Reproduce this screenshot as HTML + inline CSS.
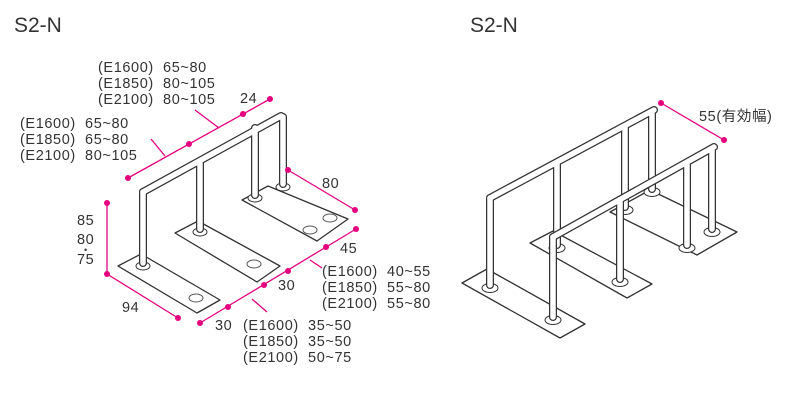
<!DOCTYPE html>
<html><head><meta charset="utf-8"><style>
html,body{margin:0;padding:0;background:#fff;}
svg{display:block;}
text{font-family:"Liberation Sans","Noto Sans CJK JP",sans-serif;fill:#333;}
.t{font-size:14.5px;letter-spacing:0.6px;}
.m{stroke:#e4007f;stroke-width:1.3;fill:none;}
.d{fill:#e4007f;}
.pl{fill:#fff;stroke:#333;stroke-width:1.3;stroke-linejoin:round;}
.po1{stroke:#333;stroke-width:8;stroke-linecap:round;}
.po2{stroke:#fff;stroke-width:5.5;stroke-linecap:round;}
</style></head><body>
<svg width="800" height="400" viewBox="0 0 800 400">
<text x="14" y="32" font-size="21">S2-N</text>
<text x="470" y="32" font-size="21">S2-N</text>

<!-- LEFT DRAWING -->
<polygon class="pl" points="242,200 268,186 348,219 317,241"/>
<polygon class="pl" points="175,233 198,221 280,266 257,282"/>
<polygon class="pl" points="118,266 141,254 220,300 197,313"/>
<ellipse cx="330" cy="218" rx="7" ry="4" fill="none" stroke="#555"/>
<ellipse cx="310" cy="230" rx="7" ry="4" fill="none" stroke="#555"/>
<ellipse cx="254" cy="264" rx="7" ry="4" fill="none" stroke="#555"/>
<ellipse cx="196" cy="298" rx="7" ry="4" fill="none" stroke="#555"/>
<ellipse cx="143" cy="266" rx="7" ry="4" fill="#fff" stroke="#333"/>
<ellipse cx="200" cy="232" rx="7" ry="4" fill="#fff" stroke="#333"/>
<ellipse cx="255" cy="198" rx="7" ry="4" fill="#fff" stroke="#333"/>
<ellipse cx="283" cy="187" rx="7" ry="4" fill="#fff" stroke="#333"/>
<g>
<line class="po1" x1="143" y1="263" x2="143" y2="192"/>
<line class="po1" x1="200" y1="229" x2="200" y2="162"/>
<line class="po1" x1="255" y1="195" x2="255" y2="128"/>
<line class="po1" x1="283" y1="184" x2="283" y2="117"/>
<line class="po1" x1="143" y1="192" x2="281" y2="116"/>
<line class="po2" x1="143" y1="263" x2="143" y2="192"/>
<line class="po2" x1="200" y1="229" x2="200" y2="162"/>
<line class="po2" x1="255" y1="195" x2="255" y2="128"/>
<line class="po2" x1="283" y1="184" x2="283" y2="117"/>
<line class="po2" x1="143" y1="192" x2="281" y2="116"/>
</g>
<!-- dims left -->
<polyline class="m" points="128,178 270,99"/>
<line class="m" x1="195" y1="110" x2="219" y2="128"/>
<line class="m" x1="151" y1="139" x2="165" y2="156"/>
<circle class="d" cx="128" cy="178" r="3"/><circle class="d" cx="189" cy="144" r="3"/><circle class="d" cx="243" cy="114" r="3"/><circle class="d" cx="270" cy="99" r="3"/>
<polyline class="m" points="107,203 107,274 178,318"/>
<circle class="d" cx="107" cy="203" r="3"/><circle class="d" cx="107" cy="274" r="3"/><circle class="d" cx="178" cy="318" r="3"/>
<line class="m" x1="288" y1="170" x2="355" y2="210"/>
<circle class="d" cx="288" cy="170" r="3"/><circle class="d" cx="355" cy="210" r="3"/>
<line class="m" x1="200" y1="323" x2="356" y2="229"/>
<circle class="d" cx="200" cy="323" r="3"/><circle class="d" cx="228" cy="307" r="3"/><circle class="d" cx="264" cy="285" r="3"/><circle class="d" cx="288" cy="271" r="3"/><circle class="d" cx="326" cy="247" r="3"/><circle class="d" cx="356" cy="229" r="3"/>
<line class="m" x1="310" y1="260" x2="322" y2="268"/>
<line class="m" x1="252" y1="299" x2="267" y2="312"/>

<g class="t">
<text x="98" y="72">(E1600)&#160;&#160;65~80</text>
<text x="98" y="88">(E1850)&#160;&#160;80~105</text>
<text x="98" y="104">(E2100)&#160;&#160;80~105</text>
<text x="240" y="103">24</text>
<text x="20" y="128">(E1600)&#160;&#160;65~80</text>
<text x="20" y="144">(E1850)&#160;&#160;65~80</text>
<text x="20" y="160">(E2100)&#160;&#160;80~105</text>
<text x="322" y="188">80</text>
<text x="77" y="225">85</text>
<text x="77" y="244">80</text>
<text x="84" y="253" font-size="9">•</text>
<text x="77" y="264">75</text>
<text x="340" y="253">45</text>
<text x="322" y="276">(E1600)&#160;&#160;40~55</text>
<text x="322" y="292">(E1850)&#160;&#160;55~80</text>
<text x="322" y="308">(E2100)&#160;&#160;55~80</text>
<text x="278" y="290">30</text>
<text x="122" y="312">94</text>
<text x="215" y="330">30</text>
<text x="243" y="330">(E1600)&#160;&#160;35~50</text>
<text x="243" y="346">(E1850)&#160;&#160;35~50</text>
<text x="243" y="362">(E2100)&#160;&#160;50~75</text>
</g>

<!-- RIGHT DRAWING -->
<polygon class="pl" points="610,212 650,190 737,232 697,255"/>
<polygon class="pl" points="530,243 553,231 652,284 627,298"/>
<polygon class="pl" points="462,283 487,269 585,324 560,338"/>
<ellipse cx="490" cy="288" rx="8" ry="4.5" fill="#fff" stroke="#333"/>
<ellipse cx="553" cy="320" rx="8" ry="4.5" fill="#fff" stroke="#333"/>
<ellipse cx="620" cy="282" rx="8" ry="4.5" fill="#fff" stroke="#333"/>
<ellipse cx="557" cy="248" rx="8" ry="4.5" fill="#fff" stroke="#333"/>
<ellipse cx="625" cy="210" rx="8" ry="4.5" fill="#fff" stroke="#333"/>
<ellipse cx="652" cy="192" rx="8" ry="4.5" fill="#fff" stroke="#333"/>
<ellipse cx="687" cy="248" rx="8" ry="4.5" fill="#fff" stroke="#333"/>
<ellipse cx="712" cy="232" rx="8" ry="4.5" fill="#fff" stroke="#333"/>
<g>
<line class="po1" x1="625" y1="207" x2="625" y2="128"/>
<line class="po1" x1="652" y1="189" x2="652" y2="114"/>
<line class="po1" x1="490" y1="285" x2="490" y2="198"/>
<line class="po1" x1="557" y1="245" x2="557" y2="164"/>
<line class="po1" x1="490" y1="198" x2="654" y2="110"/>
<line class="po2" x1="625" y1="207" x2="625" y2="128"/>
<line class="po2" x1="652" y1="189" x2="652" y2="114"/>
<line class="po2" x1="490" y1="285" x2="490" y2="198"/>
<line class="po2" x1="557" y1="245" x2="557" y2="164"/>
<line class="po2" x1="490" y1="198" x2="654" y2="110"/>
<line class="po1" x1="553" y1="317" x2="553" y2="237"/>
<line class="po1" x1="620" y1="279" x2="620" y2="200"/>
<line class="po1" x1="687" y1="245" x2="687" y2="165"/>
<line class="po1" x1="712" y1="229" x2="712" y2="150"/>
<line class="po1" x1="553" y1="237" x2="714" y2="147"/>
<line class="po2" x1="553" y1="317" x2="553" y2="237"/>
<line class="po2" x1="620" y1="279" x2="620" y2="200"/>
<line class="po2" x1="687" y1="245" x2="687" y2="165"/>
<line class="po2" x1="712" y1="229" x2="712" y2="150"/>
<line class="po2" x1="553" y1="237" x2="714" y2="147"/>
</g>
<line class="m" x1="661" y1="103" x2="724" y2="140"/>
<circle class="d" cx="661" cy="103" r="3"/><circle class="d" cx="724" cy="140" r="3"/>
<text class="t" x="699" y="121">55(有効幅)</text>
</svg>
</body></html>
